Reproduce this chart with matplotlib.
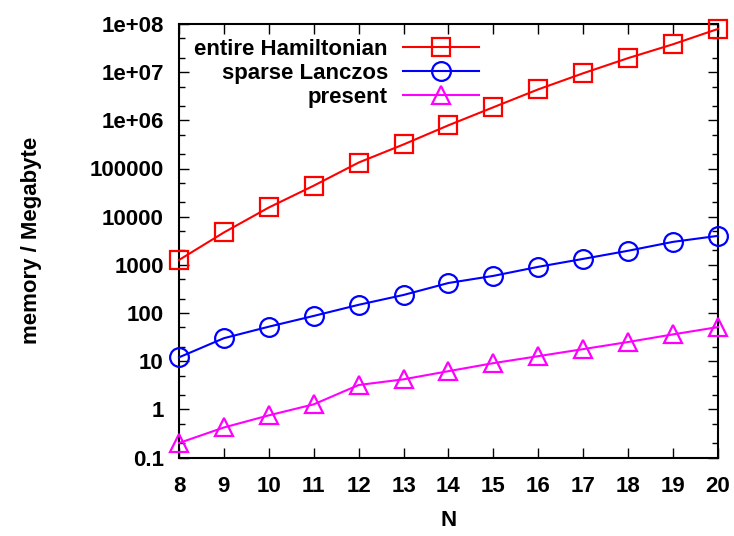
import matplotlib
matplotlib.use("Agg")
import matplotlib.pyplot as plt
from matplotlib.ticker import LogLocator, FixedLocator, NullFormatter

N = [8, 9, 10, 11, 12, 13, 14, 15, 16, 17, 18, 19, 20]
entire_hamiltonian = [1260, 4700, 15500, 44000, 133000, 316000, 790000,
                      1.87e6, 4.4e6, 9.5e6, 1.96e7, 3.8e7, 7.9e7]
sparse_lanczos = [12, 30, 52, 87, 148, 237, 420, 590, 910, 1330, 1960, 3000, 4000]
present = [0.2, 0.42, 0.75, 1.27, 3.2, 4.2, 6.2, 9.1, 12.7, 17.8, 25, 36, 51]

ytick_vals = [0.1, 1, 10, 100, 1000, 10000, 100000, 1e6, 1e7, 1e8]
ytick_labels = ["0.1", "1", "10", "100", "1000", "10000", "100000",
                "1e+06", "1e+07", "1e+08"]

plt.rcParams['font.family'] = ['Liberation Sans', 'DejaVu Sans']
plt.rcParams['font.weight'] = 'bold'

FS = 16

fig = plt.figure(figsize=(7.34, 5.36), dpi=100)
ax = fig.add_axes([179 / 734, 1 - 457.5 / 536, 539 / 734, 433.5 / 536])

lw = 1.5
ms = 12.5
ax.plot(N, entire_hamiltonian, color='#ff0000', lw=lw, marker='s', ms=ms,
        mfc='none', mew=1.6, label='entire Hamiltonian', clip_on=False, zorder=3)
ax.plot(N, sparse_lanczos, color='#0000ff', lw=lw, marker='o', ms=ms + 1,
        mfc='none', mew=1.6, label='sparse Lanczos', clip_on=False, zorder=3)
ax.plot(N, present, color='#ff00ff', lw=lw, marker='^', ms=ms,
        mfc='none', mew=1.6, label='present', clip_on=False, zorder=3)

ax.set_yscale('log')
ax.set_xlim(8, 20)
ax.set_ylim(0.1, 1e8)
ax.set_xticks(N)
ax.set_xticklabels([str(n) for n in N])
ax.yaxis.set_major_locator(FixedLocator(ytick_vals))
ax.set_yticklabels(ytick_labels)
ax.yaxis.set_minor_locator(LogLocator(base=10, subs=(2.0, 5.0), numticks=20))
ax.yaxis.set_minor_formatter(NullFormatter())

ax.tick_params(which='both', direction='in', top=True, right=True,
               labelsize=FS, width=1.0)
ax.tick_params(axis='y', pad=11)
ax.tick_params(axis='x', pad=13)
ax.tick_params(which='major', length=7)
ax.tick_params(which='minor', length=4)
for s in ax.spines.values():
    s.set_linewidth(1.5)

ax.set_xlabel('N', fontsize=FS, fontweight='bold', labelpad=10)
ax.set_ylabel('memory / Megabyte', fontsize=FS, fontweight='bold', labelpad=34)

leg = ax.legend(loc='upper left', frameon=False, markerfirst=False,
                fontsize=FS, handlelength=3.4, borderaxespad=0.0,
                labelspacing=0.12, handletextpad=0.7,
                bbox_to_anchor=(0.012, 0.985))
leg._legend_box.align = 'right'
for vp in leg._legend_box.get_children()[1].get_children():
    vp.align = 'right'
    for hp in vp.get_children():
        hp.align = 'right'

fig.savefig('out.png', dpi=100)
